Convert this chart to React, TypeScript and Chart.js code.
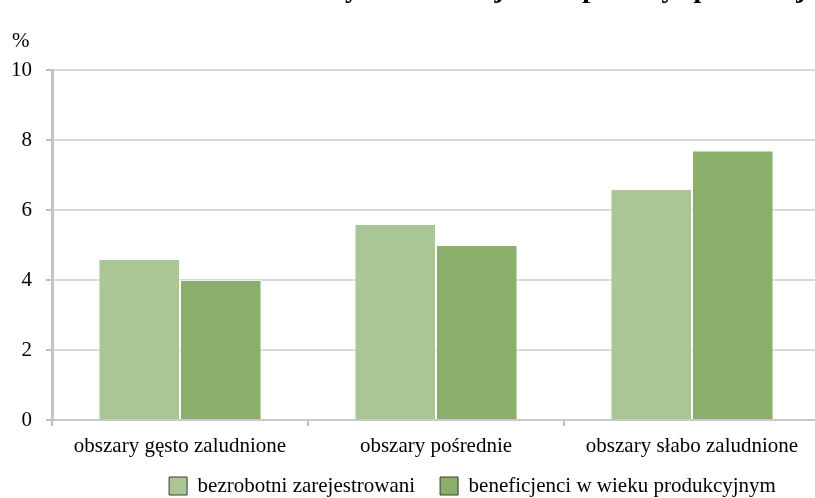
import React, { useEffect, useRef } from "react";
import { Chart, registerables } from "chart.js";

Chart.register(...registerables);

const titleText = "Udział bezrobotnych i beneficjentów pomocy społecznej";
const unitLabel = "%";
const categories = ["obszary gęsto zaludnione", "obszary pośrednie", "obszary słabo zaludnione"];
const seriesNames = ["bezrobotni zarejestrowani", "beneficjenci w wieku produkcyjnym"];
const bezrobotni = [4.6, 5.6, 6.6];
const beneficjenci = [4.0, 5.0, 7.7];
const yMin = 0;
const yMax = 10;
const yStep = 2;

const lightGreen = "#A9C694";
const darkGreen = "#8AAF6A";
const serif = "'Liberation Serif', 'Times New Roman', serif";

const legendPlacement = {
  id: "legendPlacement",
  afterLayout(chart: any) {
    const lg = chart.legend;
    if (!lg) return;
    const h = lg.bottom - lg.top;
    lg.top = 473.5;
    lg.bottom = 473.5 + h;
  },
};

export default function App() {
  const ref = useRef<HTMLCanvasElement>(null);

  useEffect(() => {
    if (!ref.current) return;
    const chart = new Chart(ref.current, {
      type: "bar",
      data: {
        labels: categories,
        datasets: [
          {
            label: seriesNames[0],
            data: bezrobotni,
            backgroundColor: lightGreen,
            borderColor: "rgba(255,255,255,0.55)",
            borderWidth: 1,
            categoryPercentage: 0.637,
            barPercentage: 1,
          },
          {
            label: seriesNames[1],
            data: beneficjenci,
            backgroundColor: darkGreen,
            borderColor: "rgba(255,255,255,0.55)",
            borderWidth: 1,
            categoryPercentage: 0.637,
            barPercentage: 1,
          },
        ],
      },
      plugins: [legendPlacement],
      options: {
        animation: false,
        responsive: false,
        maintainAspectRatio: false,
        layout: { padding: { left: 0, right: 0, top: 0, bottom: 0 } },
        plugins: {
          title: {
            display: true,
            text: titleText,
            color: "#000",
            font: { family: serif, size: 28, weight: "bold", lineHeight: 1 },
            padding: { top: -1, bottom: 66 },
          },
          legend: {
            display: true,
            position: "bottom",
            labels: {
              color: "#000",
              font: { family: serif, size: 21 },
              boxWidth: 18,
              boxHeight: 18,
              padding: 25,
              generateLabels: (c: any) =>
                Chart.defaults.plugins.legend.labels.generateLabels(c).map((it: any) => ({
                  ...it,
                  strokeStyle: "#3a3a3a",
                  lineWidth: 1,
                })),
            },
          },
          tooltip: { enabled: false },
        },
        scales: {
          x: {
            grid: {
              display: true,
              drawOnChartArea: false,
              drawTicks: true,
              tickLength: 6,
              color: "#bfbfbf",
              lineWidth: 2,
            },
            border: { display: true, color: "#c8c8c8", width: 2 },
            ticks: {
              color: "#000",
              font: { family: serif, size: 21 },
              padding: 8,
              maxRotation: 0,
              autoSkip: false,
            },
            afterFit: (s: any) => {
              s.height = 40;
            },
          },
          y: {
            min: yMin,
            max: yMax,
            ticks: {
              stepSize: yStep,
              color: "#000",
              font: { family: serif, size: 21 },
              padding: 14,
            },
            grid: {
              color: "#d9d9d9",
              lineWidth: 2,
              tickLength: 6,
              tickColor: "#bfbfbf",
            },
            border: { display: true, color: "#c4c4c4", width: 3 },
            afterFit: (s: any) => {
              s.width = 52;
            },
          },
          y2: {
            position: "right",
            display: true,
            grid: { display: false, drawTicks: false },
            ticks: { display: false },
            border: { display: false },
            afterFit: (s: any) => {
              s.width = 125;
            },
          },
        },
      },
    });
    return () => chart.destroy();
  }, []);

  return (
    <div
      style={{
        position: "fixed",
        left: 0,
        top: 0,
        width: 815,
        height: 498,
        overflow: "hidden",
        background: "#fff",
      }}
    >
      <canvas
        ref={ref}
        width={945}
        height={539}
        style={{ position: "absolute", left: 0, top: -23, width: 945, height: 539 }}
      />
      <span
        style={{
          position: "absolute",
          left: 12,
          top: 30,
          fontFamily: serif,
          fontSize: 21,
          lineHeight: "21px",
          color: "#000",
        }}
      >
        {unitLabel}
      </span>
    </div>
  );
}
